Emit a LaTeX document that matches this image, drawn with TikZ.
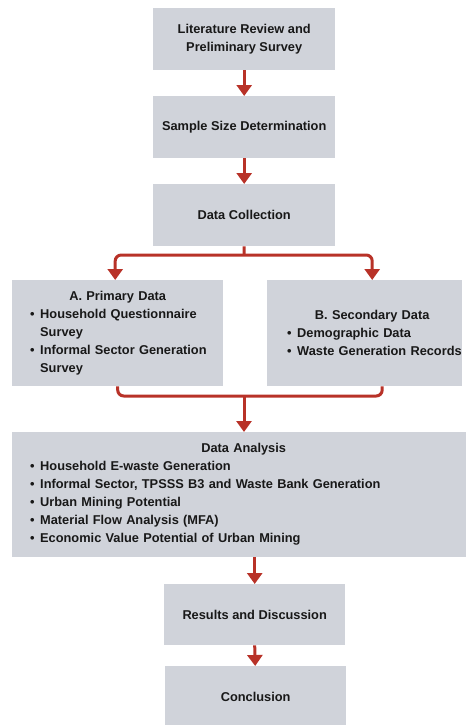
\documentclass[tikz,border=0pt]{standalone}
\usepackage{fontspec}
\setmainfont{Liberation Sans}
\usetikzlibrary{arrows.meta}

\definecolor{boxfill}{RGB}{208,211,218}
\definecolor{flowred}{RGB}{184,50,40}
\definecolor{inkdark}{RGB}{24,24,24}

% bullet line inside a list box: left pad, bullet, text
\newlength{\listpad}
\newcommand{\listline}[1]{\hspace*{\listpad}\makebox[10pt][l]{\textbullet}#1\par}
\newcommand{\listcont}[1]{\hspace*{\listpad}\hspace*{10pt}#1\par}

\tikzset{
  flowbox/.style={fill=boxfill, draw=none, inner sep=0pt, font=\bfseries\fontsize{12.8}{18}\selectfont,
    text=inkdark, align=center, anchor=north west},
  listbox/.style={flowbox, align=left},
  flowtip/.tip={Triangle[width=15pt,length=11pt]},
  flowarrow/.style={draw=flowred, line width=3pt, -flowtip},
  flowline/.style={draw=flowred, line width=3pt},
}

\begin{document}
\begin{tikzpicture}[x=1pt,y=-1pt]
\useasboundingbox (0,0) rectangle (466,725);

% main column boxes
\node[flowbox, minimum width=182pt, minimum height=62pt] (lit) at (153,8)
  {Literature Review and\\Preliminary Survey};
\node[flowbox, minimum width=182pt, minimum height=62pt] (sample) at (153,96)
  {Sample Size Determination};
\node[flowbox, minimum width=182pt, minimum height=62pt] (collect) at (153,184)
  {Data Collection};

% primary and secondary data
\node[listbox, minimum height=106pt, text width=211pt] (prim) at (12,280)
  {\makebox[211pt][c]{A. Primary Data}\par
   \setlength{\listpad}{18pt}%
   \listline{Household Questionnaire}
   \listcont{Survey}
   \listline{Informal Sector Generation}
   \listcont{Survey}};
\node[listbox, minimum height=106pt, text width=195pt] (sec) at (267,280)
  {\makebox[195pt][c]{\hspace*{15pt}B. Secondary Data}\par
   \setlength{\listpad}{20pt}%
   \listline{Demographic Data}
   \listline{Waste Generation Records}};

% analysis
\node[listbox, minimum height=125pt, text width=454pt] (analysis) at (12,432)
  {\makebox[454pt][c]{\hspace*{9pt}Data Analysis}\par
   \setlength{\listpad}{18pt}%
   \listline{Household E-waste Generation}
   \listline{Informal Sector, TPSSS B3 and Waste Bank Generation}
   \listline{Urban Mining Potential}
   \listline{Material Flow Analysis (MFA)}
   \listline{Economic Value Potential of Urban Mining}};

\node[flowbox, minimum width=181pt, minimum height=61pt] (results) at (164,584)
  {Results and Discussion};
\node[flowbox, minimum width=181pt, minimum height=62pt] (concl) at (165,666)
  {Conclusion};

% straight connectors
\draw[flowarrow] (lit.south) -- (sample.north);
\draw[flowarrow] (sample.south) -- (collect.north);
\draw[flowarrow] (results.south) -- ([xshift=-0.5pt]concl.north);
\draw[flowarrow] (analysis.south -| results.north) -- (results.north);

% split into the two data sources
\coordinate (split) at (244,255);
\draw[flowline] (collect.south) -- (split);
\draw[flowarrow, flowtip-flowtip, rounded corners=6pt]
  ([xshift=-2.5pt]prim.north) |- (split) -| ([xshift=7.5pt]sec.north);

% merge back into the analysis
\coordinate (merge) at (244,396);
\draw[flowline, rounded corners=6pt] (prim.south) |- (merge) -| ([xshift=17.5pt]sec.south);
\draw[flowarrow] (merge) -- (merge |- analysis.north);
\end{tikzpicture}
\end{document}
